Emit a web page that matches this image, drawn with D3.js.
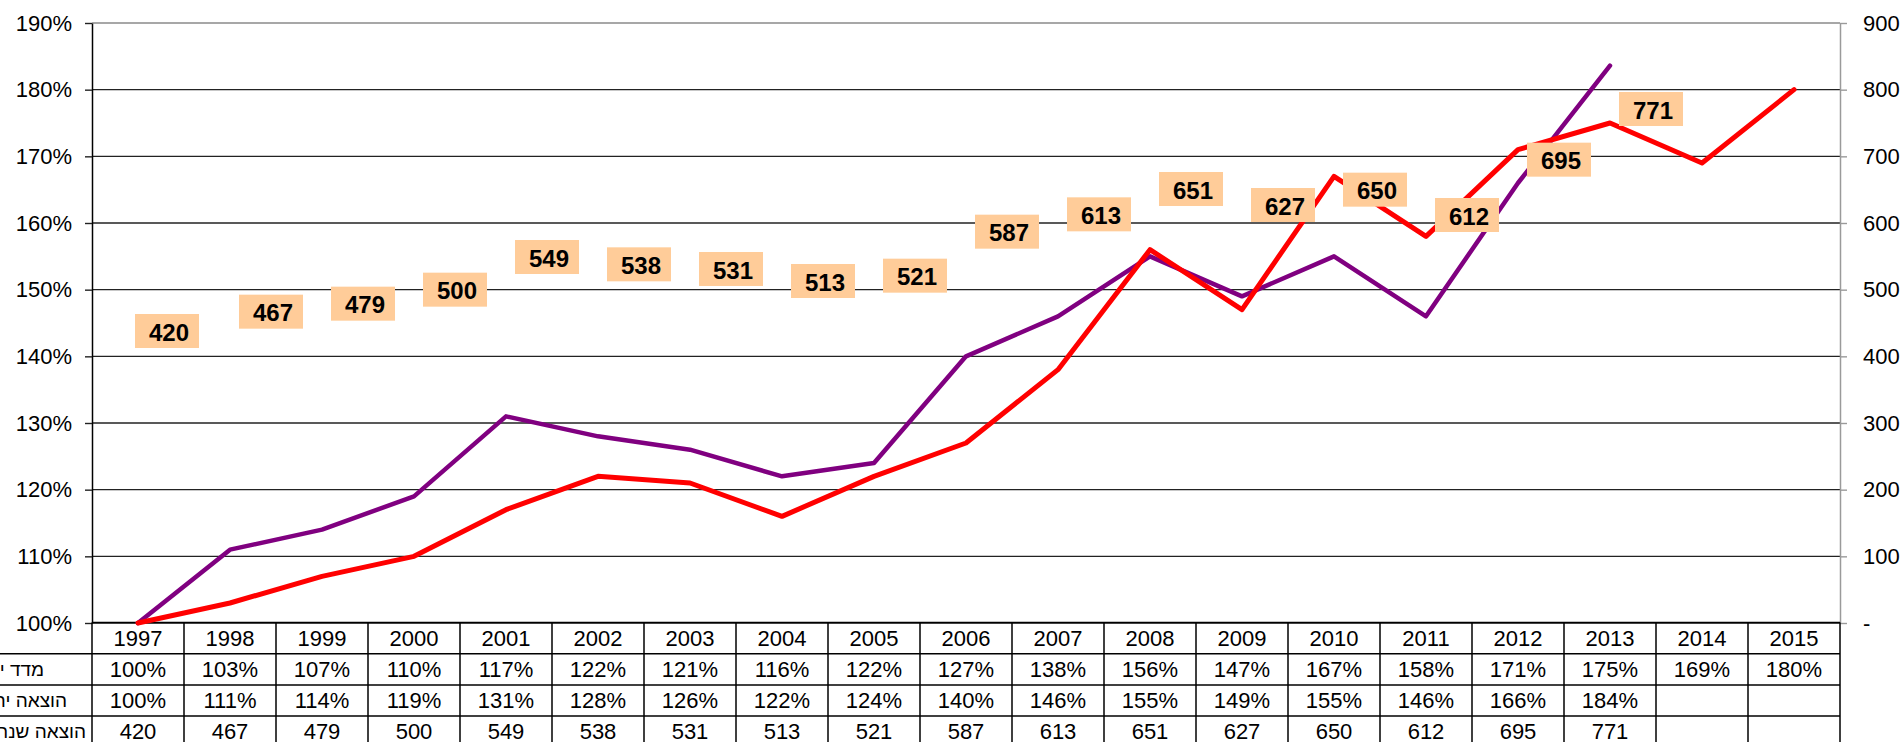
<!DOCTYPE html>
<html>
<head>
<meta charset="utf-8">
<script src="https://cdn.jsdelivr.net/npm/d3@7"></script>
<style>
    html, body { margin: 0; padding: 0; background: #fff; overflow: hidden; }
    svg { display: block; font-family: "Liberation Sans", Arial, Helvetica, sans-serif; }
</style>
</head>
<body>
<svg id="chart" width="1901" height="742"></svg>
<script>
// Data
const years = [1997, 1998, 1999, 2000, 2001, 2002, 2003, 2004, 2005, 2006,
               2007, 2008, 2009, 2010, 2011, 2012, 2013, 2014, 2015];
const priceIndex = [1.00, 1.03, 1.07, 1.10, 1.17, 1.22, 1.21, 1.16, 1.22, 1.27,
                    1.38, 1.56, 1.47, 1.67, 1.58, 1.71, 1.75, 1.69, 1.80];
const spendIndex = [1.00, 1.11, 1.14, 1.19, 1.31, 1.28, 1.26, 1.22, 1.24, 1.40,
                    1.46, 1.55, 1.49, 1.55, 1.46, 1.66, 1.836];
const annualSpend = [420, 467, 479, 500, 549, 538, 531, 513, 521, 587,
                     613, 651, 627, 650, 612, 695, 771];
const rowLabels = ["מדד יוקר הבריאות", "הוצאה יחסית לנפש", "הוצאה שנתית לנפש"];
const leftTicks = [1.0, 1.1, 1.2, 1.3, 1.4, 1.5, 1.6, 1.7, 1.8, 1.9];
const rightTicks = [0, 100, 200, 300, 400, 500, 600, 700, 800, 900];

// Layout
const plot = { left: 92, right: 1840, top: 23, bottom: 623 };
const rowH = 31.2;
const rowLabelRight = [44, 67, 86];   // Hebrew labels are cut off on the left
const svg = d3.select('#chart');

const x = d3.scaleBand().domain(years).range([plot.left, plot.right]).padding(0);
const bw = x.bandwidth();
const cx = d => x(d) + bw / 2;
const yL = d3.scaleLinear().domain([1.0, 1.9]).range([plot.bottom, plot.top]);
const yR = d3.scaleLinear().domain([0, 900]).range([plot.bottom, plot.top]);
const pct = d3.format('.0%');

// Gridlines
svg.append('g')
    .selectAll('line')
    .data(leftTicks)
    .join('line')
    .attr('x1', plot.left).attr('x2', plot.right)
    .attr('y1', d => yL(d)).attr('y2', d => yL(d))
    .attr('stroke', (d, i) => i === leftTicks.length - 1 ? '#8a8a8a' : '#222')
    .attr('stroke-width', 1.4);

// Left axis
const axL = svg.append('g')
    .attr('transform', `translate(${plot.left},0)`)
    .call(d3.axisLeft(yL).tickValues(leftTicks).tickFormat(pct).tickSize(7).tickPadding(13).tickSizeOuter(0));
axL.select('.domain').attr('stroke', '#000').attr('stroke-width', 1.5);
axL.selectAll('.tick line').attr('stroke', '#222').attr('stroke-width', 1.4);
axL.selectAll('text')
    .attr('font-family', '"Liberation Sans", Arial, sans-serif')
    .attr('font-size', 22).attr('fill', '#000');

// Right axis
const axR = svg.append('g')
    .attr('transform', `translate(${plot.right},0)`)
    .call(d3.axisRight(yR).tickValues(rightTicks)
        .tickFormat(d => d === 0 ? '-' : d).tickSize(7).tickPadding(16).tickSizeOuter(0));
axR.select('.domain').attr('stroke', '#9a9a9a').attr('stroke-width', 1.5);
axR.selectAll('.tick line').attr('stroke', '#9a9a9a').attr('stroke-width', 1.4);
axR.selectAll('text')
    .attr('font-family', '"Liberation Sans", Arial, sans-serif')
    .attr('font-size', 22).attr('fill', '#000');

// Data table under the plot
const tableTop = plot.bottom - 0.5;
const rows = [
    years.map(String),
    priceIndex.map(pct),
    years.map((d, i) => spendIndex[i] === undefined ? '' : pct(spendIndex[i])),
    years.map((d, i) => annualSpend[i] === undefined ? '' : String(annualSpend[i]))
];
const table = svg.append('g');

table.selectAll('line.h')
    .data(d3.range(rows.length + 1))
    .join('line')
    .attr('class', 'h')
    .attr('x1', i => i === 0 ? plot.left : 0).attr('x2', plot.right)
    .attr('y1', i => tableTop + i * rowH).attr('y2', i => tableTop + i * rowH)
    .attr('stroke', '#000').attr('stroke-width', 1.5);

table.selectAll('line.v')
    .data(years.concat(['end']))
    .join('line')
    .attr('class', 'v')
    .attr('x1', d => d === 'end' ? plot.right : x(d))
    .attr('x2', d => d === 'end' ? plot.right : x(d))
    .attr('y1', tableTop).attr('y2', tableTop + rows.length * rowH)
    .attr('stroke', '#000').attr('stroke-width', 1.5);

rows.forEach((cells, r) => {
    table.append('g')
        .selectAll('text')
        .data(cells)
        .join('text')
        .attr('x', (d, i) => cx(years[i]))
        .attr('y', tableTop + r * rowH + rowH / 2)
        .attr('text-anchor', 'middle')
        .attr('dominant-baseline', 'central')
        .attr('font-size', 22)
        .text(d => d);
});

table.append('g')
    .selectAll('text')
    .data(rowLabels)
    .join('text')
    .attr('x', (d, i) => rowLabelRight[i])
    .attr('y', (d, i) => tableTop + (i + 1) * rowH + rowH / 2)
    .attr('text-anchor', 'end')
    .attr('dominant-baseline', 'central')
    .attr('font-size', 19)
    .text(d => d);

// Lines
const lineL = d3.line()
    .x((d, i) => cx(years[i]))
    .y(d => yL(d));

svg.append('path')
    .datum(spendIndex)
    .attr('d', lineL)
    .attr('fill', 'none')
    .attr('stroke', '#800080')
    .attr('stroke-width', 4.5)
    .attr('stroke-linejoin', 'round')
    .attr('stroke-linecap', 'round');

svg.append('path')
    .datum(priceIndex)
    .attr('d', lineL)
    .attr('fill', 'none')
    .attr('stroke', '#ff0000')
    .attr('stroke-width', 5)
    .attr('stroke-linejoin', 'round')
    .attr('stroke-linecap', 'round');

// Value labels of the annual spending (secondary axis), drawn to the right of each point
const boxW = 64, boxH = 34;
const labels = svg.append('g')
    .selectAll('g')
    .data(annualSpend)
    .join('g')
    // the first label was dragged a little up-left in the original
    .attr('transform', (d, i) => {
        const dx = i === 0 ? -12 : 0, dy = i === 0 ? -12 : 0;
        return `translate(${cx(years[i]) + 9 + dx},${yR(d) + dy})`;
    });

labels.append('rect')
    .attr('x', 0).attr('y', -boxH / 2)
    .attr('width', boxW).attr('height', boxH)
    .attr('fill', '#ffcc99');

labels.append('text')
    .attr('x', boxW / 2 + 2)
    .attr('y', 1)
    .attr('text-anchor', 'middle')
    .attr('dominant-baseline', 'central')
    .attr('font-size', 24)
    .attr('font-weight', 'bold')
    .text(d => d);
</script>
</body>
</html>
